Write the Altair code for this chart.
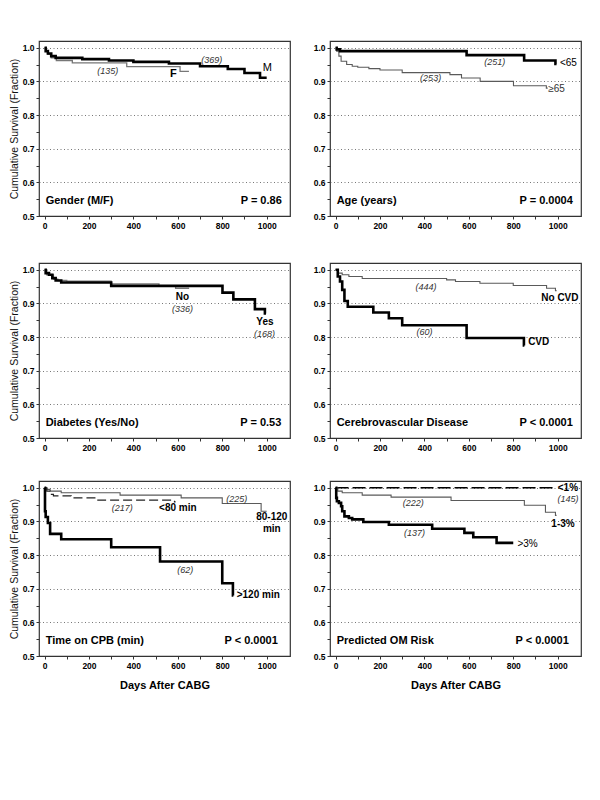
import altair as alt
import pandas as pd

FONT = "Liberation Sans"

# ---------------- data ----------------
# Panel 1: Gender
gender_m_days = [0, 5, 15, 30, 50, 170, 290, 400, 560, 700, 825, 900, 970, 1000]
gender_m_surv = [1.0, 0.99, 0.983, 0.975, 0.970, 0.966, 0.962, 0.958, 0.953, 0.945, 0.937, 0.925, 0.911, 0.911]
gender_f_days = [0, 5, 15, 30, 53, 125, 370, 610, 650]
gender_f_surv = [1.0, 0.99, 0.98, 0.97, 0.962, 0.955, 0.944, 0.930, 0.930]

# Panel 2: Age
age_lt65_days = [0, 5, 20, 590, 849, 990, 995]
age_lt65_surv = [1.0, 0.995, 0.99, 0.978, 0.962, 0.952, 0.952]
age_ge65_days = [0, 5, 15, 25, 50, 75, 100, 150, 200, 300, 515, 567, 651, 801, 949, 955]
age_ge65_surv = [1.0, 0.99, 0.975, 0.96, 0.95, 0.945, 0.942, 0.938, 0.934, 0.926, 0.92, 0.91, 0.90, 0.887, 0.88, 0.88]

# Panel 3: Diabetes
dm_yes_days = [0, 5, 20, 35, 50, 75, 300, 801, 850, 947, 992, 997]
dm_yes_surv = [1.0, 0.99, 0.985, 0.975, 0.968, 0.962, 0.952, 0.932, 0.912, 0.883, 0.87, 0.87]
dm_no_days = [0, 10, 40, 60, 100, 300, 515, 590, 651]
dm_no_surv = [1.0, 0.985, 0.972, 0.968, 0.966, 0.958, 0.953, 0.945, 0.945]

# Panel 4: Cerebrovascular disease
cvd_no_days = [0, 10, 30, 60, 120, 500, 540, 650, 800, 950, 990, 995]
cvd_no_surv = [1.0, 0.99, 0.985, 0.98, 0.974, 0.97, 0.965, 0.96, 0.953, 0.945, 0.938, 0.938]
cvd_yes_days = [0, 10, 20, 30, 40, 55, 170, 240, 300, 590, 848, 850]
cvd_yes_surv = [1.0, 0.98, 0.965, 0.94, 0.907, 0.89, 0.873, 0.856, 0.835, 0.797, 0.775, 0.775]

# Panel 5: Time on CPB
cpb_lt80_days = [0, 10, 25, 40, 120, 240, 585, 590]
cpb_lt80_surv = [1.0, 0.99, 0.98, 0.976, 0.97, 0.963, 0.958, 0.958]
cpb_80_days = [0, 10, 25, 75, 340, 615, 800, 975, 1000]
cpb_80_surv = [1.0, 0.995, 0.99, 0.985, 0.978, 0.97, 0.953, 0.93, 0.93]
cpb_gt120_days = [0, 2, 5, 15, 25, 75, 300, 520, 800, 848, 850]
cpb_gt120_surv = [1.0, 0.93, 0.913, 0.895, 0.863, 0.847, 0.823, 0.781, 0.716, 0.68, 0.68]

# Panel 6: Predicted OM risk
om_lt1_days = [0, 987]
om_lt1_surv = [1.0, 1.0]
om_13_days = [0, 10, 30, 120, 250, 520, 850, 945, 990, 995]
om_13_surv = [1.0, 0.99, 0.985, 0.978, 0.972, 0.962, 0.948, 0.927, 0.918, 0.918]
om_gt3_days = [0, 3, 6, 15, 25, 30, 40, 60, 75, 125, 240, 435, 580, 620, 725, 800]
om_gt3_surv = [1.0, 0.97, 0.96, 0.955, 0.945, 0.93, 0.915, 0.91, 0.906, 0.898, 0.89, 0.878, 0.866, 0.853, 0.836, 0.836]

# Annotations: text, day, survival, style, align
gender_txt = ["(135)", "F", "(369)", "M"]
gender_tx = [284, 580, 753, 1003]
gender_ty = [0.930, 0.922, 0.963, 0.94]
gender_ts = ["count", "big", "count", "bigreg"]
gender_ta = ["center", "center", "center", "center"]

age_txt = ["(251)", "<65", "(253)", "≥65"]
age_tx = [717, 1010, 428, 995]
age_ty = [0.958, 0.955, 0.909, 0.877]
age_ts = ["count", "reg", "count", "reggray"]
age_ta = ["center", "left", "center", "center"]

dm_txt = ["No", "(336)", "Yes", "(168)"]
dm_tx = [621, 621, 992, 990]
dm_ty = [0.919, 0.884, 0.844, 0.81]
dm_ts = ["bold", "count", "bold", "count"]
dm_ta = ["center"] * 4

cvd_txt = ["(444)", "No CVD", "(60)", "CVD"]
cvd_tx = [407, 1010, 400, 867]
cvd_ty = [0.95, 0.917, 0.816, 0.784]
cvd_ts = ["count", "bold", "count", "bold"]
cvd_ta = ["center", "center", "center", "left"]

cpb_txt = ["(217)", "<80 min", "(225)", "80-120", "min", "(62)", ">120 min"]
cpb_tx = [350, 600, 865, 1023, 1023, 633, 865]
cpb_ty = [0.94, 0.94, 0.968, 0.912, 0.877, 0.757, 0.681]
cpb_ts = ["count", "bold", "count", "bold", "bold", "count", "bold"]
cpb_ta = ["center", "center", "center", "center", "center", "center", "left"]

om_txt = ["<1%", "(145)", "(222)", "1-3%", "(137)", ">3%"]
om_tx = [1046, 1046, 350, 1024, 355, 819]
om_ty = [1.0, 0.967, 0.955, 0.893, 0.865, 0.833]
om_ts = ["bold", "count", "count", "bold", "count", "reg"]
om_ta = ["center", "center", "center", "center", "center", "left"]

panel_titles = ["Gender (M/F)", "Age (years)", "Diabetes (Yes/No)",
                "Cerebrovascular Disease", "Time on CPB (min)", "Predicted OM Risk"]
panel_title_x = [5, 5, 5, 5, 5, 5]
panel_pvals = ["P = 0.86", "P = 0.0004", "P = 0.53", "P < 0.0001", "P < 0.0001", "P < 0.0001"]
panel_pval_x = [1068, 1068, 1066, 1068, 1050, 1050]
panel_text_y = 0.546

x_ticks = list(range(0, 1001, 100))
y_ticks = [round(0.5 + 0.05 * i, 2) for i in range(11)]

# ---------------- styles ----------------
LINE = {
    "thick": dict(color="#000000", strokeWidth=2.6),
    "thin": dict(color="#5a5a5a", strokeWidth=1.1),
    "thinlight": dict(color="#777777", strokeWidth=1.3),
    "dash80": dict(color="#222222", strokeWidth=1.2, strokeDash=[9, 4]),
    "dash1": dict(color="#000000", strokeWidth=1.3, strokeDash=[13, 4]),
}
TEXT = {
    "count": dict(fontSize=9, fontStyle="italic", color="#333333"),
    "bold": dict(fontSize=10, fontWeight="bold", color="#000000"),
    "big": dict(fontSize=11, fontWeight="bold", color="#000000"),
    "bigreg": dict(fontSize=11, color="#000000"),
    "reg": dict(fontSize=10, color="#000000"),
    "reggray": dict(fontSize=10, color="#333333"),
    "title": dict(fontSize=11, fontWeight="bold", color="#000000"),
}

W, H = 251, 175


def x_enc(show_title):
    return alt.X(
        "day:Q",
        scale=alt.Scale(domain=[-25, 1105], nice=False, zero=False),
        axis=alt.Axis(
            values=x_ticks, format="d",
            labelExpr="datum.value % 200 == 0 ? datum.label : ''",
            grid=False, domain=False, tickSize=3, tickColor="#333",
            labelFont=FONT, labelFontSize=8.5, labelFontWeight="bold", labelColor="#000",
            labelPadding=2,
            title="Days After CABG" if show_title else None,
            titleFont=FONT, titleFontSize=11, titleFontWeight="bold", titleColor="#000",
            titlePadding=10,
        ),
    )


def y_enc(show_title):
    return alt.Y(
        "surv:Q",
        scale=alt.Scale(domain=[0.5, 1.02], nice=False, zero=False),
        axis=alt.Axis(
            values=y_ticks, format=".1f",
            labelExpr="round(datum.value * 100) % 10 == 0 ? datum.label : ''",
            grid=True, gridColor="#777777", gridDash=[1, 2.5], gridWidth=1,
            gridOpacity={"condition": {"test": "round(datum.value * 100) % 10 == 0 && datum.value > 0.55",
                                       "value": 1}, "value": 0},
            domain=False, tickSize=3, tickColor="#333",
            labelFont=FONT, labelFontSize=8.5, labelFontWeight="bold", labelColor="#000",
            labelPadding=2,
            title="Cumulative Survival (Fraction)" if show_title else None,
            titleFont=FONT, titleFontSize=10.5, titleFontWeight="normal", titleColor="#111",
            titlePadding=3,
        ),
    )


def panel(series, txt, tx, ty, ts, ta, idx, show_y, show_x):
    X = x_enc(show_x)
    Y = y_enc(show_y)
    layers = []
    for days, surv, style in series:
        df = pd.DataFrame({"day": days, "surv": surv})
        layers.append(
            alt.Chart(df).mark_line(interpolate="step-after", **LINE[style]).encode(x=X, y=Y)
        )
    for t, x, y, s, a in zip(txt, tx, ty, ts, ta):
        df = pd.DataFrame({"day": [x], "surv": [y], "label": [t]})
        layers.append(
            alt.Chart(df).mark_text(font=FONT, align=a, baseline="middle", **TEXT[s])
            .encode(x=X, y=Y, text="label:N")
        )
    tdf = pd.DataFrame({"day": [panel_title_x[idx]], "surv": [panel_text_y], "label": [panel_titles[idx]]})
    layers.append(
        alt.Chart(tdf).mark_text(font=FONT, align="left", baseline="middle", **TEXT["title"])
        .encode(x=X, y=Y, text="label:N")
    )
    pdf = pd.DataFrame({"day": [panel_pval_x[idx]], "surv": [panel_text_y], "label": [panel_pvals[idx]]})
    layers.append(
        alt.Chart(pdf).mark_text(font=FONT, align="right", baseline="middle", **TEXT["title"])
        .encode(x=X, y=Y, text="label:N")
    )
    return alt.layer(*layers).properties(width=W, height=H)


p1 = panel([(gender_f_days, gender_f_surv, "thinlight"), (gender_m_days, gender_m_surv, "thick")],
           gender_txt, gender_tx, gender_ty, gender_ts, gender_ta, 0, True, False)
p2 = panel([(age_ge65_days, age_ge65_surv, "thin"), (age_lt65_days, age_lt65_surv, "thick")],
           age_txt, age_tx, age_ty, age_ts, age_ta, 1, False, False)
p3 = panel([(dm_no_days, dm_no_surv, "thinlight"), (dm_yes_days, dm_yes_surv, "thick")],
           dm_txt, dm_tx, dm_ty, dm_ts, dm_ta, 2, True, False)
p4 = panel([(cvd_no_days, cvd_no_surv, "thin"), (cvd_yes_days, cvd_yes_surv, "thick")],
           cvd_txt, cvd_tx, cvd_ty, cvd_ts, cvd_ta, 3, False, False)
p5 = panel([(cpb_80_days, cpb_80_surv, "thin"), (cpb_lt80_days, cpb_lt80_surv, "dash80"),
            (cpb_gt120_days, cpb_gt120_surv, "thick")],
           cpb_txt, cpb_tx, cpb_ty, cpb_ts, cpb_ta, 4, True, True)
p6 = panel([(om_lt1_days, om_lt1_surv, "dash1"), (om_13_days, om_13_surv, "thin"),
            (om_gt3_days, om_gt3_surv, "thick")],
           om_txt, om_tx, om_ty, om_ts, om_ta, 5, False, True)

top_rows = alt.vconcat(
    alt.hconcat(p1, p2, spacing=21),
    alt.hconcat(p3, p4, spacing=21),
    spacing=31,
)
chart = alt.vconcat(
    top_rows,
    alt.hconcat(p5, p6, spacing=21),
    spacing=27,
).properties(
    padding={"left": 0, "top": 32, "right": 0, "bottom": 0},
    background="white",
).configure_view(stroke="#333333", strokeWidth=1.2)

chart.save("out.html", embed_options={"renderer": "svg", "actions": False})
